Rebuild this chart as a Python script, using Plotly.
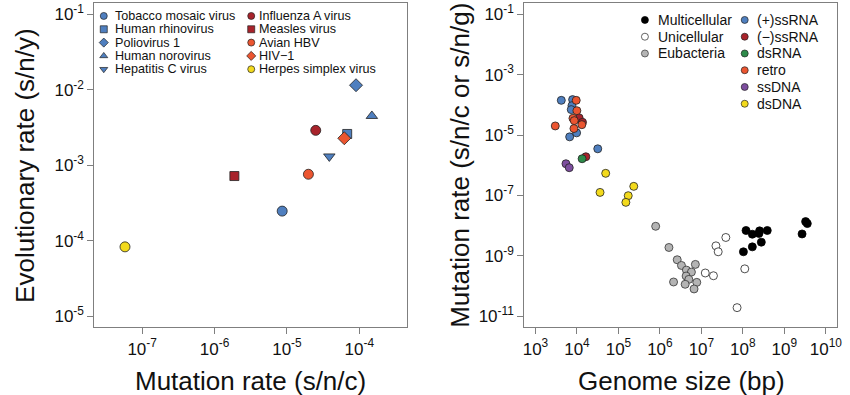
import plotly.graph_objects as go

# ---------------- data ----------------
# Left panel: viruses, mutation rate (s/n/c) vs evolutionary rate (s/n/y)
VIRUS_NAMES = ["Tobacco mosaic virus", "Human rhinovirus", "Poliovirus 1",
               "Human norovirus", "Hepatitis C virus", "Influenza A virus",
               "Measles virus", "Avian HBV", "HIV\u22121", "Herpes simplex virus"]
VIRUS_MUT_RATE = [8.6e-6, 6.8e-5, 9.0e-5, 1.49e-4, 3.85e-5,
                  2.5e-5, 1.88e-6, 1.98e-5, 6.2e-5, 5.8e-8]
VIRUS_EVO_RATE = [2.47e-4, 2.6e-3, 1.15e-2, 4.5e-3, 1.31e-3,
                  2.9e-3, 7.2e-4, 7.6e-4, 2.28e-3, 8.3e-5]

# Right panel: genome size (bp) vs mutation rate
MULTI_GENOME = [1.19e8, 1.69e8, 2.44e8, 2.53e8, 3.87e8, 2.78e8, 1.69e8, 1.03e8, 2.67e9, 3.25e9, 3.57e9]
MULTI_RATE = [6.9e-9, 5.2e-9, 5.5e-9, 6.7e-9, 6.9e-9, 2.83e-9, 1.98e-9, 1.36e-9, 5.3e-9, 1.36e-8, 1.17e-8]
UNI_GENOME = [3.88e7, 2.24e7, 2.54e7, 1.24e7, 1.95e7, 1.11e8, 7.24e7]
UNI_RATE = [4.05e-9, 2.14e-9, 1.36e-9, 2.7e-10, 2.19e-10, 3.7e-10, 1.92e-11]
EUBAC_GENOME = [7.9e5, 1.65e6, 2.61e6, 3.3e6, 4.35e6, 5.74e6, 7.15e6, 4.28e6, 4.97e6, 2.13e6, 4.06e6, 7.73e6, 6.65e6]
EUBAC_RATE = [9.5e-9, 1.89e-9, 7.4e-10, 4.8e-10, 3.37e-10, 2.9e-10, 5.2e-10, 2.14e-10, 1.66e-10, 1.36e-10, 1.14e-10, 1.32e-10, 8.0e-11]
PSSRNA_GENOME = [4.19e3, 7.85e3, 7.57e3, 7.28e3, 6.67e3, 9.8e3, 3.17e4]
PSSRNA_RATE = [1.41e-4, 1.49e-4, 9.4e-5, 6.95e-5, 8.7e-6, 1.18e-5, 3.5e-6]
NSSRNA_GENOME = [1.13e4, 1.36e4, 1.64e4]
NSSRNA_RATE = [3.7e-5, 2.64e-5, 1.91e-6]
DSRNA_GENOME = [1.33e4]
DSRNA_RATE = [1.64e-6]
RETRO_GENOME = [9.6e3, 9.95e3, 8.0e3, 8.6e3, 3.0e3, 8.45e3, 1.31e4]
RETRO_RATE = [1.41e-4, 6.4e-5, 3.6e-5, 3.0e-5, 2.0e-5, 1.64e-5, 2.2e-5]
SSDNA_GENOME = [5.43e3, 6.52e3]
SSDNA_RATE = [1.12e-6, 8.3e-7]
DSDNA_GENOME = [4.93e4, 3.6e4, 2.34e5, 1.72e5, 1.51e5]
DSDNA_RATE = [5.4e-7, 1.26e-7, 2.0e-7, 9.8e-8, 5.9e-8]

LEFT_X_TICKS = [1e-7, 1e-6, 1e-5, 1e-4]
LEFT_X_TICKTEXT = ["10<sup>-7</sup>", "10<sup>-6</sup>", "10<sup>-5</sup>", "10<sup>-4</sup>"]
LEFT_Y_TICKS = [1e-1, 1e-2, 1e-3, 1e-4, 1e-5]
LEFT_Y_TICKTEXT = ["10<sup>-1</sup>", "10<sup>-2</sup>", "10<sup>-3</sup>", "10<sup>-4</sup>", "10<sup>-5</sup>"]
RIGHT_X_TICKS = [1e3, 1e4, 1e5, 1e6, 1e7, 1e8, 1e9, 1e10]
RIGHT_X_TICKTEXT = ["10<sup>3</sup>", "10<sup>4</sup>", "10<sup>5</sup>", "10<sup>6</sup>",
                    "10<sup>7</sup>", "10<sup>8</sup>", "10<sup>9</sup>", "10<sup>10</sup>"]
RIGHT_Y_TICKS = [1e-1, 1e-3, 1e-5, 1e-7, 1e-9, 1e-11]
RIGHT_Y_TICKTEXT = ["10<sup>-1</sup>", "10<sup>-3</sup>", "10<sup>-5</sup>", "10<sup>-7</sup>",
                    "10<sup>-9</sup>", "10<sup>-11</sup>"]

# ---------------- styles ----------------
W, H = 850, 395
FONT = "Liberation Sans, Arial, Helvetica, sans-serif"
BLUE = "#4F7FBF"
DARKRED = "#A8232B"
ORANGE = "#EB5530"
YELLOW = "#F3DA1C"
GREEN = "#2E8B4A"
PURPLE = "#7D4E9E"
GRAY = "#B4B4B4"
FRAME = "#7F7F7F"
OUTLINE = "#222222"

VIRUS_SYMBOLS = ["circle", "square", "diamond", "triangle-up", "triangle-down",
                 "circle", "square", "circle", "diamond", "circle"]
VIRUS_COLORS = [BLUE, BLUE, BLUE, BLUE, BLUE, DARKRED, DARKRED, ORANGE, ORANGE, YELLOW]
VIRUS_SIZES = [10, 9, 10, 10, 10, 10, 9, 10, 10, 10]

L_BOX = (94, 409)
R_BOX = (527, 842)
Y_BOX = (2, 327)

fig = go.Figure()

# left panel data
for name, mx, ey, sym, col, sz in zip(VIRUS_NAMES, VIRUS_MUT_RATE, VIRUS_EVO_RATE,
                                      VIRUS_SYMBOLS, VIRUS_COLORS, VIRUS_SIZES):
    fig.add_trace(go.Scatter(x=[mx], y=[ey], mode="markers", name=name, showlegend=False,
                             xaxis="x", yaxis="y",
                             marker=dict(symbol=sym, size=sz, color=col,
                                         line=dict(color=OUTLINE, width=0.8))))

# right panel data
groups = [
    ("Multicellular", MULTI_GENOME, MULTI_RATE, "#000000", "#000000"),
    ("Unicellular", UNI_GENOME, UNI_RATE, "#FFFFFF", OUTLINE),
    ("Eubacteria", EUBAC_GENOME, EUBAC_RATE, GRAY, "#333333"),
    ("(+)ssRNA", PSSRNA_GENOME, PSSRNA_RATE, BLUE, OUTLINE),
    ("(\u2212)ssRNA", NSSRNA_GENOME, NSSRNA_RATE, DARKRED, OUTLINE),
    ("dsRNA", DSRNA_GENOME, DSRNA_RATE, GREEN, OUTLINE),
    ("retro", RETRO_GENOME, RETRO_RATE, ORANGE, OUTLINE),
    ("ssDNA", SSDNA_GENOME, SSDNA_RATE, PURPLE, OUTLINE),
    ("dsDNA", DSDNA_GENOME, DSDNA_RATE, YELLOW, OUTLINE),
]
for name, gx, gy, fill, edge in groups:
    fig.add_trace(go.Scatter(x=gx, y=gy, mode="markers", name=name, showlegend=False,
                             xaxis="x2", yaxis="y2",
                             marker=dict(symbol="circle", size=8, color=fill,
                                         line=dict(color=edge, width=0.8))))

# ---------------- custom legends on a pixel overlay axis ----------------
annotations = []

def legend_entry(mx, tx, y, label, sym, fill, edge, size, fsize):
    fig.add_trace(go.Scatter(x=[mx], y=[y], mode="markers", showlegend=False,
                             hoverinfo="skip", xaxis="x3", yaxis="y3",
                             marker=dict(symbol=sym, size=size, color=fill,
                                         line=dict(color=edge, width=0.7))))
    annotations.append(dict(x=tx, y=y, xref="x3", yref="y3", text=label, showarrow=False,
                            xanchor="left", yanchor="middle", borderpad=0,
                            font=dict(family=FONT, size=fsize, color="#111111")))

for i in range(5):
    legend_entry(103.5, 113.5, 15 + 13.35 * i, VIRUS_NAMES[i], VIRUS_SYMBOLS[i],
                 VIRUS_COLORS[i], OUTLINE, 7, 12.6)
for i in range(5, 10):
    legend_entry(252, 259, 15 + 13.35 * (i - 5), VIRUS_NAMES[i], VIRUS_SYMBOLS[i],
                 VIRUS_COLORS[i], OUTLINE, 7, 12.6)
for i, (name, gx, gy, fill, edge) in enumerate(groups[:3]):
    legend_entry(648.5, 661, 19 + 16.8 * i, name, "circle", fill, edge, 7, 14)
for i, (name, gx, gy, fill, edge) in enumerate(groups[3:]):
    legend_entry(749, 760, 19 + 16.8 * i, name, "circle", fill, edge, 7, 14)

# axis titles
def title(x, y, text, angle=0):
    annotations.append(dict(x=x, y=y, xref="x3", yref="y3", text=text, showarrow=False,
                            textangle=angle, xanchor="center", yanchor="middle",
                            font=dict(family=FONT, size=26, color="#111111")))

title(24, 164.5, "Evolutionary rate (s/n/y)", -90)
title(251, 381, "Mutation rate (s/n/c)")
title(462, 164.5, "Mutation rate (s/n/c or s/n/g)", -90)
title(685, 381, "Genome size (bp)")

axis_common = dict(type="log", showline=True, mirror=True, linecolor=FRAME, linewidth=1,
                   ticks="outside", ticklen=6, tickcolor=FRAME, tickwidth=1,
                   showgrid=False, zeroline=False,
                   tickfont=dict(family=FONT, size=17, color="#111111"))

ydom = [1 - Y_BOX[1] / H, 1 - Y_BOX[0] / H]
fig.update_layout(
    width=W, height=H,
    margin=dict(l=0, r=0, t=0, b=0),
    paper_bgcolor="white", plot_bgcolor="rgba(0,0,0,0)",
    showlegend=False,
    xaxis=dict(domain=[L_BOX[0] / W, L_BOX[1] / W], range=[-7.66, -3.34],
               tickvals=LEFT_X_TICKS, ticktext=LEFT_X_TICKTEXT, anchor="y", **axis_common),
    yaxis=dict(domain=ydom, range=[-5.145, -0.85],
               tickvals=LEFT_Y_TICKS, ticktext=LEFT_Y_TICKTEXT, anchor="x", **axis_common),
    xaxis2=dict(domain=[R_BOX[0] / W, R_BOX[1] / W], range=[2.73, 10.27],
                tickvals=RIGHT_X_TICKS, ticktext=RIGHT_X_TICKTEXT, anchor="y2", **axis_common),
    yaxis2=dict(domain=ydom, range=[-11.363, -0.627],
                tickvals=RIGHT_Y_TICKS, ticktext=RIGHT_Y_TICKTEXT, anchor="x2", **axis_common),
    xaxis3=dict(domain=[0, 1], range=[0, W], visible=False, fixedrange=True, anchor="y3"),
    yaxis3=dict(domain=[0, 1], range=[H, 0], visible=False, fixedrange=True, anchor="x3"),
    annotations=annotations,
    font=dict(family=FONT, color="#111111"),
    hovermode=False,
)

fig.write_html("out.html", config={"displayModeBar": False, "staticPlot": True},
               post_script="document.body.style.margin='0';document.body.style.overflow='hidden';")
